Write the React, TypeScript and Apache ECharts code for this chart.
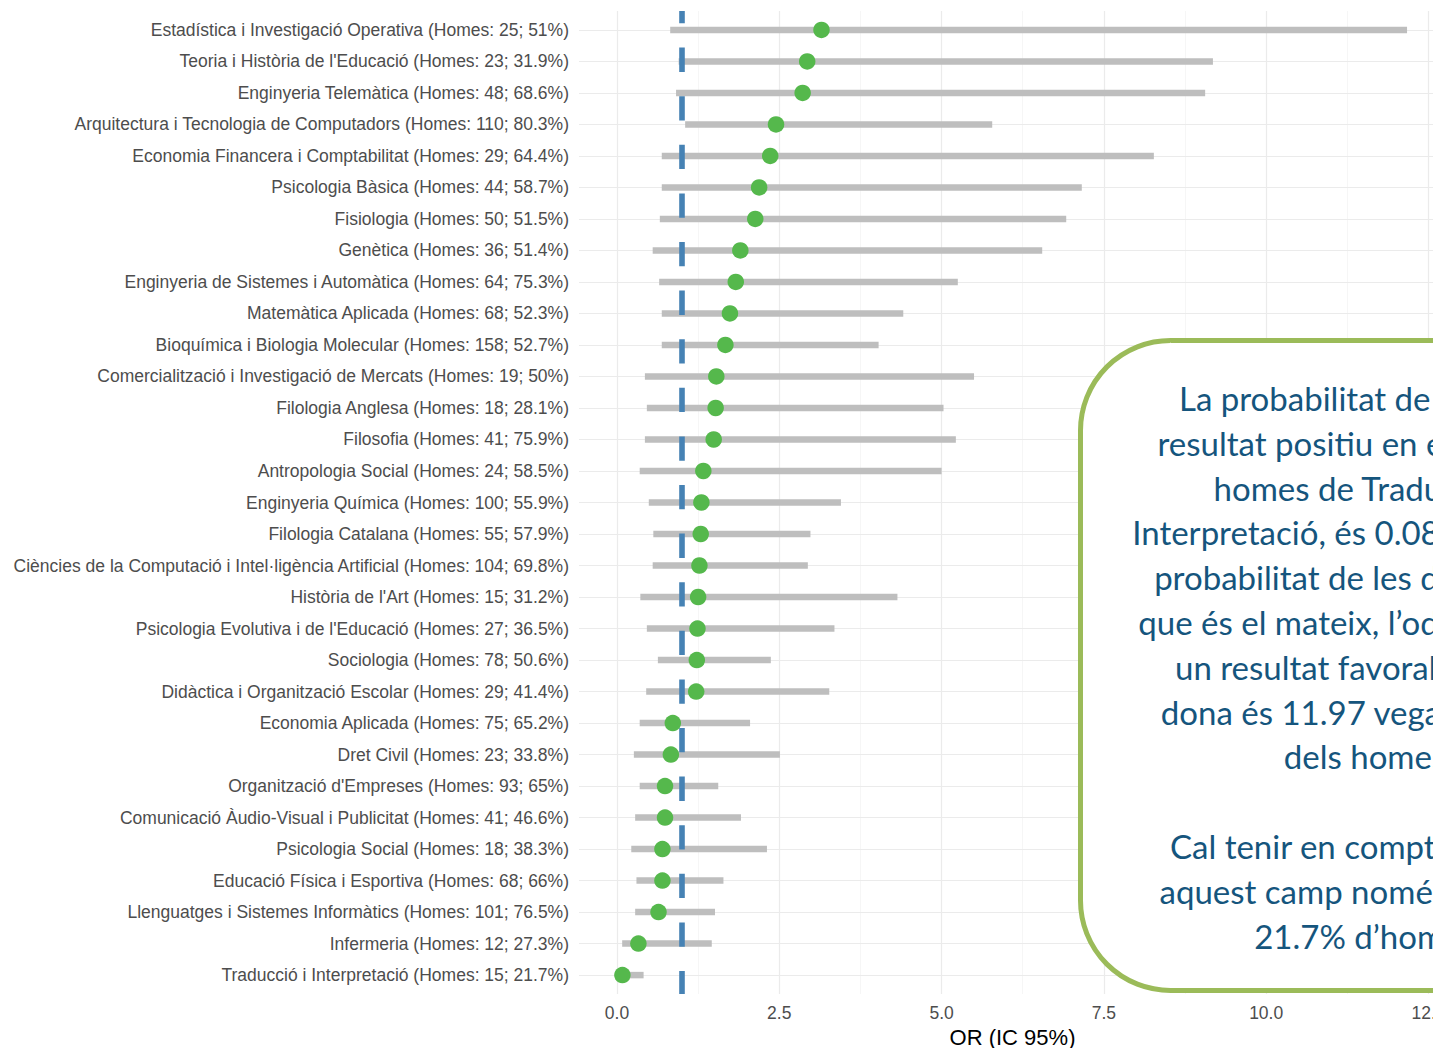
import React, { useEffect, useRef } from "react";
import * as echarts from "echarts";

const categories = [
  "Estadística i Investigació Operativa (Homes: 25; 51%)",
  "Teoria i Història de l'Educació (Homes: 23; 31.9%)",
  "Enginyeria Telemàtica (Homes: 48; 68.6%)",
  "Arquitectura i Tecnologia de Computadors (Homes: 110; 80.3%)",
  "Economia Financera i Comptabilitat (Homes: 29; 64.4%)",
  "Psicologia Bàsica (Homes: 44; 58.7%)",
  "Fisiologia (Homes: 50; 51.5%)",
  "Genètica (Homes: 36; 51.4%)",
  "Enginyeria de Sistemes i Automàtica (Homes: 64; 75.3%)",
  "Matemàtica Aplicada (Homes: 68; 52.3%)",
  "Bioquímica i Biologia Molecular (Homes: 158; 52.7%)",
  "Comercialització i Investigació de Mercats (Homes: 19; 50%)",
  "Filologia Anglesa (Homes: 18; 28.1%)",
  "Filosofia (Homes: 41; 75.9%)",
  "Antropologia Social (Homes: 24; 58.5%)",
  "Enginyeria Química (Homes: 100; 55.9%)",
  "Filologia Catalana (Homes: 55; 57.9%)",
  "Ciències de la Computació i Intel·ligència Artificial (Homes: 104; 69.8%)",
  "Història de l'Art (Homes: 15; 31.2%)",
  "Psicologia Evolutiva i de l'Educació (Homes: 27; 36.5%)",
  "Sociologia (Homes: 78; 50.6%)",
  "Didàctica i Organització Escolar (Homes: 29; 41.4%)",
  "Economia Aplicada (Homes: 75; 65.2%)",
  "Dret Civil (Homes: 23; 33.8%)",
  "Organització d'Empreses (Homes: 93; 65%)",
  "Comunicació Àudio-Visual i Publicitat (Homes: 41; 46.6%)",
  "Psicologia Social (Homes: 18; 38.3%)",
  "Educació Física i Esportiva (Homes: 68; 66%)",
  "Llenguatges i Sistemes Informàtics (Homes: 101; 76.5%)",
  "Infermeria (Homes: 12; 27.3%)",
  "Traducció i Interpretació (Homes: 15; 21.7%)",
];

const orValues = [
  3.15, 2.93, 2.86, 2.45, 2.36, 2.19, 2.13, 1.9, 1.83, 1.74, 1.67, 1.53, 1.52,
  1.49, 1.33, 1.3, 1.29, 1.27, 1.25, 1.24, 1.23, 1.22, 0.86, 0.83, 0.74, 0.74,
  0.7, 0.7, 0.64, 0.33, 0.0835,
];

const ciLower = [
  0.82, 0.95, 0.91, 1.05, 0.69, 0.69, 0.66, 0.55, 0.65, 0.69, 0.69, 0.43, 0.46,
  0.43, 0.35, 0.49, 0.56, 0.55, 0.36, 0.46, 0.63, 0.45, 0.35, 0.26, 0.35, 0.28,
  0.22, 0.3, 0.28, 0.08, 0.01,
];

const ciUpper = [
  12.17, 9.18, 9.06, 5.78, 8.27, 7.16, 6.92, 6.55, 5.25, 4.41, 4.03, 5.5, 5.03,
  5.22, 5.0, 3.45, 2.98, 2.94, 4.32, 3.35, 2.37, 3.27, 2.05, 2.51, 1.56, 1.91,
  2.31, 1.64, 1.51, 1.46, 0.41,
];

const xMajorTicks = [0, 2.5, 5, 7.5, 10, 12.5];
const xMinorTicks = [1.25, 3.75, 6.25, 8.75, 11.25];
const referenceOR = 1;

const noteLines = [
  "La probabilitat de tenir un",
  "resultat positiu en el cas dels",
  "homes de Traducció i",
  "Interpretació, és 0.08 vegades la",
  "probabilitat de les dones o, el",
  "que és el mateix, l’odds de tenir",
  "un resultat favorable si ets",
  "dona és 11.97 vegades el de",
  "dels homes",
  "",
  "Cal tenir en compte que en",
  "aquest camp només hi ha un",
  "21.7% d’homes",
];

const FONT = "'Liberation Sans', Arial, Helvetica, sans-serif";

export default function App() {
  const ref = useRef<HTMLDivElement>(null);

  useEffect(() => {
    if (!ref.current) return;
    const chart = echarts.init(ref.current, null, { renderer: "svg" });
    const rowIdx = categories.map((_, i) => i);

    const gridLines: any[] = [
      ...xMinorTicks.map((v) => ({
        xAxis: v,
        lineStyle: { color: "#F2F2F2", width: 0.7, type: "solid" },
      })),
      ...xMajorTicks.map((v) => ({
        xAxis: v,
        lineStyle: { color: "#EBEBEB", width: 1.2, type: "solid" },
      })),
      ...rowIdx.map((i) => ({
        yAxis: i,
        lineStyle: { color: "#EBEBEB", width: 1.2, type: "solid" },
      })),
    ];

    const option: any = {
      animation: false,
      backgroundColor: "#ffffff",
      grid: {
        left: 579,
        right: -13,
        top: 11,
        bottom: 54,
        containLabel: false,
        outerBoundsMode: "none",
      },
      xAxis: {
        type: "value",
        min: -0.585,
        max: 12.77,
        name: "OR (IC 95%)",
        nameLocation: "middle",
        nameGap: 30,
        nameTextStyle: {
          fontSize: 22,
          lineHeight: 22,
          color: "#000000",
          fontFamily: FONT,
        },
        axisLine: { show: false },
        axisTick: { show: false },
        splitLine: { show: false },
        axisLabel: {
          customValues: xMajorTicks,
          formatter: (v: number) => v.toFixed(1),
          fontSize: 17.5,
          color: "#4D4D4D",
          fontFamily: FONT,
          margin: 10,
        },
      },
      yAxis: {
        type: "value",
        min: -0.6,
        max: categories.length - 0.4,
        inverse: true,
        axisLine: { show: false },
        axisTick: { show: false },
        splitLine: { show: false },
        axisLabel: {
          customValues: rowIdx,
          formatter: (v: number) => categories[Math.round(v)] ?? "",
          fontSize: 17.5,
          color: "#4D4D4D",
          fontFamily: FONT,
          margin: 10,
        },
      },
      series: [
        {
          type: "scatter",
          data: [],
          silent: true,
          z: 1,
          markLine: {
            z: 1,
            silent: true,
            symbol: ["none", "none"],
            label: { show: false },
            emphasis: { disabled: true },
            animation: false,
            data: gridLines,
          },
        },
        {
          type: "custom",
          z: 3,
          silent: true,
          data: rowIdx.map((i) => [ciLower[i], ciUpper[i], i]),
          encode: { x: [0, 1], y: 2 },
          renderItem: (params: any, api: any) => {
            const lo = api.coord([api.value(0), api.value(2)]);
            const hi = api.coord([api.value(1), api.value(2)]);
            return {
              type: "line",
              shape: { x1: lo[0], y1: lo[1], x2: hi[0], y2: hi[1] },
              style: { stroke: "#BEBEBE", lineWidth: 6.5, lineCap: "butt" },
            };
          },
        },
        {
          type: "scatter",
          data: [],
          silent: true,
          z: 4,
          markLine: {
            z: 4,
            silent: true,
            symbol: ["none", "none"],
            label: { show: false },
            emphasis: { disabled: true },
            animation: false,
            data: [
              {
                xAxis: referenceOR,
                lineStyle: {
                  color: "#4682B4",
                  width: 5.6,
                  type: [24.3, 24.3],
                  dashOffset: 12.3,
                  cap: "butt",
                },
              },
            ],
          },
        },
        {
          type: "scatter",
          z: 5,
          silent: true,
          symbol: "circle",
          symbolSize: 16.5,
          itemStyle: { color: "#55B84C", opacity: 1 },
          data: rowIdx.map((i) => [orValues[i], i]),
        },
      ],
      graphic: [
        {
          type: "rect",
          z: 100,
          silent: true,
          shape: { x: 1080.5, y: 340.5, width: 574, height: 650, r: 90 },
          style: { fill: "#ffffff", stroke: "#9BBB59", lineWidth: 5 },
        },
        {
          type: "text",
          z: 101,
          silent: true,
          x: 1365,
          y: 375.6,
          style: {
            text: noteLines.join("\n"),
            fontSize: 33,
            fontFamily: "Lato",
            fill: "#15557D",
            align: "center",
            verticalAlign: "top",
            lineHeight: 44.8,
          },
        },
      ],
    };

    chart.setOption(option);
    return () => chart.dispose();
  }, []);

  return (
    <div
      ref={ref}
      style={{
        position: "fixed",
        left: 0,
        top: 0,
        width: 1433,
        height: 1048,
        background: "#ffffff",
      }}
    />
  );
}
